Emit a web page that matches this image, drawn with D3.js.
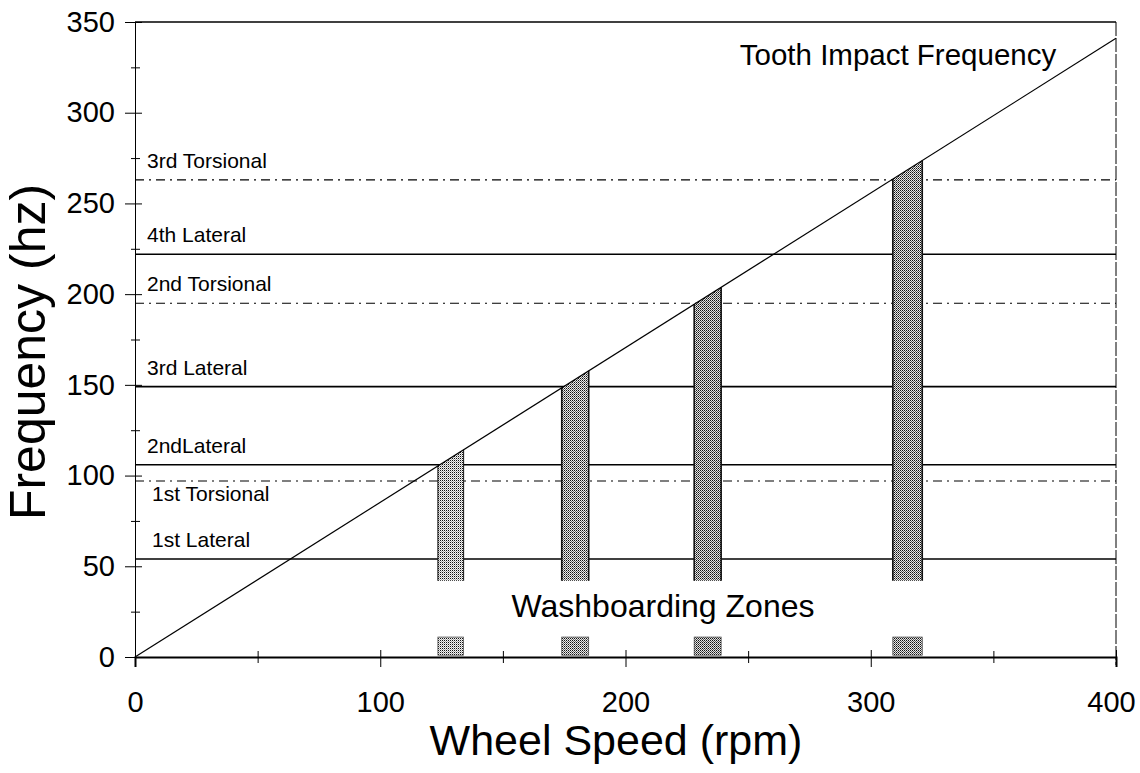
<!DOCTYPE html>
<html><head><meta charset="utf-8">
<script src="https://cdn.jsdelivr.net/npm/d3@7/dist/d3.min.js"></script>
<style>
body{margin:0;background:#fff;}
text{font-family:"Liberation Sans",Arial,sans-serif;fill:#000;}
</style></head>
<body><svg id="c" width="1140" height="773"></svg>
<script>
// ---- data ----
const xMajorTicks = [0, 100, 200, 300, 400];
const xMinorTicks = [50, 150, 250, 350];
const yMajorTicks = [0, 50, 100, 150, 200, 250, 300, 350];
const yMinorTicks = [25, 75, 125, 175, 225, 275, 325];

const modeNames = ["1st Lateral", "1st Torsional", "2ndLateral", "3rd Lateral", "2nd Torsional", "4th Lateral", "3rd Torsional"];
const modeHz    = [54, 97, 106, 149, 195, 222, 263];
const modeType  = ["lateral", "torsional", "lateral", "lateral", "torsional", "lateral", "torsional"];

const toothRpm = [0, 400];
const toothHz  = [0, 341];

const zoneStartRpm = [123.5, 174, 228, 309];
const zoneEndRpm   = [134, 185, 239, 321];
const zoneLowHz    = 42;
const markerLowHz  = 1;
const markerHighHz = 11;

// ---- layout ----
const svg = d3.select("#c");
const x = d3.scaleLinear().domain([0, 400]).range([135, 1116]);
const y = d3.scaleLinear().domain([0, 350]).range([657, 22]);
const tooth = d3.scaleLinear().domain(toothRpm).range(toothHz);

// stipple patterns
const defs = svg.append("defs");
const shades = [["#f4f4f4", "#a8a8a8"], ["#ececec", "#6a6a6a"], ["#e4e4e4", "#555"], ["#e8e8e8", "#5a5a5a"]];
shades.forEach((c, i) => {
  const p = defs.append("pattern").attr("id", "pat" + i)
    .attr("width", 2).attr("height", 2).attr("patternUnits", "userSpaceOnUse");
  p.append("rect").attr("width", 2).attr("height", 2).attr("fill", c[0]);
  p.append("rect").attr("x", 0).attr("y", 0).attr("width", 1).attr("height", 1).attr("fill", "#111");
  p.append("rect").attr("x", 1).attr("y", 1).attr("width", 1).attr("height", 1).attr("fill", c[1]);
});

// frame top and right
svg.append("line").attr("x1", x(0)).attr("x2", x(400)).attr("y1", y(350)).attr("y2", y(350))
  .attr("stroke", "#000").attr("stroke-width", 1.5);
svg.append("line").attr("x1", x(400)).attr("x2", x(400)).attr("y1", y(350)).attr("y2", y(0) + 8)
  .attr("stroke", "#000").attr("stroke-width", 1).attr("stroke-dasharray", "14,2");

// mode lines
const modes = modeNames.map((n, i) => ({name: n, hz: modeHz[i], type: modeType[i]}));
svg.append("g").selectAll("line").data(modes).join("line")
  .attr("x1", x(0)).attr("x2", x(400))
  .attr("y1", d => y(d.hz)).attr("y2", d => y(d.hz))
  .attr("stroke", "#000")
  .attr("stroke-width", d => d.type === "lateral" ? 1.6 : 1.1)
  .attr("stroke-dasharray", d => d.type === "lateral" ? null : "9,5,2,5");

svg.append("g").selectAll("text").data(modes).join("text")
  .attr("x", (d, i) => i < 2 ? 152 : 147)
  .attr("y", d => d.name === "1st Torsional" ? y(d.hz) + 20 : y(d.hz) - 12)
  .attr("font-size", 21)
  .text(d => d.name);

// zones
const zones = zoneStartRpm.map((s, i) => ({s, e: zoneEndRpm[i], i}));
const zg = svg.append("g");
zg.selectAll("path.zone").data(zones).join("path").attr("class", "zone")
  .attr("d", d => `M${x(d.s)},${y(zoneLowHz)}L${x(d.s)},${y(tooth(d.s))}L${x(d.e)},${y(tooth(d.e))}L${x(d.e)},${y(zoneLowHz)}Z`)
  .attr("fill", d => `url(#pat${d.i})`)
  .attr("stroke", "none");
zg.selectAll("path.edge").data(zones).join("path").attr("class", "edge")
  .attr("d", d => `M${x(d.s)},${y(zoneLowHz)}L${x(d.s)},${y(tooth(d.s))}M${x(d.e)},${y(tooth(d.e))}L${x(d.e)},${y(zoneLowHz)}`)
  .attr("fill", "none").attr("stroke", "#111").attr("stroke-width", d => d.i === 0 ? 1 : 1.6);
zg.selectAll("rect.mark").data(zones).join("rect").attr("class", "mark")
  .attr("x", d => x(d.s)).attr("width", d => x(d.e) - x(d.s))
  .attr("y", y(markerHighHz)).attr("height", y(markerLowHz) - y(markerHighHz))
  .attr("fill", d => `url(#pat${d.i})`)
  .attr("stroke", "#444").attr("stroke-width", 0.7);

// tooth impact line
svg.append("path")
  .attr("d", d3.line().x(d => x(d[0])).y(d => y(d[1]))(toothRpm.map((r, i) => [r, toothHz[i]])))
  .attr("stroke", "#000").attr("stroke-width", 1.2).attr("fill", "none");

// axes
const xAx = svg.append("g").attr("transform", `translate(0,${y(0)})`)
  .call(d3.axisBottom(x).tickValues(xMajorTicks).tickSize(10).tickPadding(24).tickFormat(d3.format("d")));
xAx.select(".domain").attr("stroke-width", 2);
xAx.selectAll(".tick line").attr("y1", -7);
xAx.selectAll("text").attr("font-size", 29).attr("font-family", "Liberation Sans, Arial, sans-serif")
  .attr("dx", d => d === 400 ? -5 : 0);
const xAxm = svg.append("g").attr("transform", `translate(0,${y(0)})`)
  .call(d3.axisBottom(x).tickValues(xMinorTicks).tickSize(6).tickFormat(""));
xAxm.select(".domain").remove();
xAxm.selectAll(".tick line").attr("y1", -6);

const yAx = svg.append("g").attr("transform", `translate(${x(0)},0)`)
  .call(d3.axisLeft(y).tickValues(yMajorTicks).tickSize(10).tickPadding(10).tickFormat(d3.format("d")));
yAx.selectAll(".tick line").attr("x1", 7);
yAx.selectAll("text").attr("font-size", 29).attr("font-family", "Liberation Sans, Arial, sans-serif");
const yAxm = svg.append("g").attr("transform", `translate(${x(0)},0)`)
  .call(d3.axisLeft(y).tickValues(yMinorTicks).tickSize(4).tickFormat(""));
yAxm.select(".domain").remove();
yAxm.selectAll(".tick line").attr("x1", 5);

// annotations
svg.append("text").attr("x", 898).attr("y", 65).attr("text-anchor", "middle").attr("font-size", 29.5)
  .text("Tooth Impact Frequency");
svg.append("text").attr("x", 663).attr("y", 617).attr("text-anchor", "middle").attr("font-size", 32)
  .text("Washboarding Zones");

// axis titles
svg.append("text").attr("x", 616).attr("y", 755).attr("text-anchor", "middle").attr("font-size", 43)
  .text("Wheel Speed (rpm)");
svg.append("text").attr("transform", "translate(45,352) rotate(-90)").attr("text-anchor", "middle").attr("font-size", 50)
  .text("Frequency (hz)");
</script></body></html>
